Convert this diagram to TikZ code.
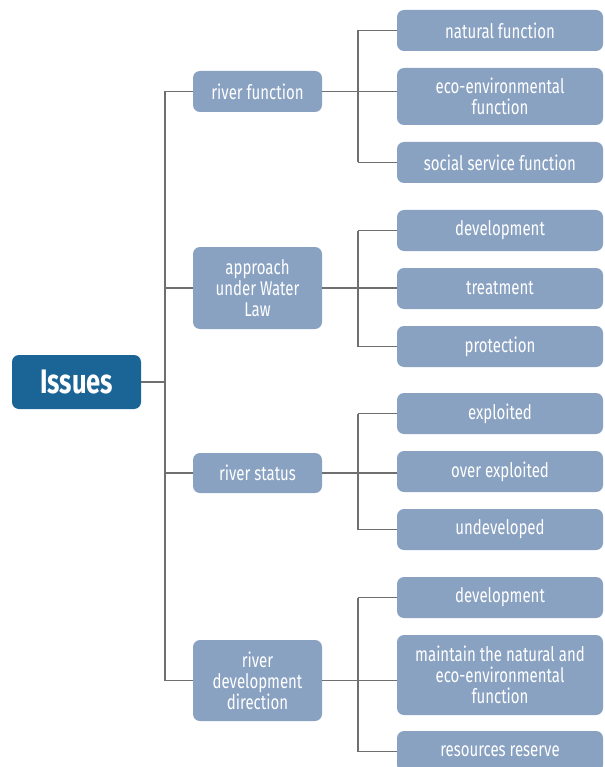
\documentclass[tikz,border=0pt]{standalone}
\usepackage{fontspec}
\setmainfont{Fira Sans}[FakeStretch=0.75]
\definecolor{rootblue}{HTML}{1B6496}
\definecolor{boxblue}{HTML}{8AA2C2}
\definecolor{linegray}{HTML}{6F6F6F}
\begin{document}
\begin{tikzpicture}[x=1pt,y=-1pt,
  rootbox/.style={fill=rootblue,rounded corners=7pt,minimum width=129pt,inner sep=0pt,text=white,font=\fontsize{34}{34}\selectfont\bfseries},
  midbox/.style={fill=boxblue,rounded corners=7pt,minimum width=129pt,inner sep=0pt,text=white,align=center,font=\fontsize{20}{21}\selectfont},
  leafbox/.style={fill=boxblue,rounded corners=7pt,minimum width=206pt,inner sep=0pt,text=white,align=center,font=\fontsize{20}{21}\selectfont},
  conn/.style={draw=linegray,line width=1.1pt}]
\useasboundingbox (0,0) rectangle (604,767);
\begin{scope}
\clip (0,0) rectangle (604,767);
% root
\node[rootbox,minimum height=54pt] (root) at (76.5,382) {Issues};
% level 2
\node[midbox,minimum height=41pt] (rf) at (257.5,91.5) {river function};
\node[midbox,minimum height=82pt] (ap) at (257.5,288) {approach\\under Water\\Law};
\node[midbox,minimum height=40pt] (rs) at (257.5,473) {river status};
\node[midbox,minimum height=81pt] (rd) at (257.5,680.5) {river\\development\\direction};
% level 3
\node[leafbox,minimum height=41pt] (a1) at (500,30.5) {natural function};
\node[leafbox,minimum height=57pt] (a2) at (500,96.5) {eco-environmental\\function};
\node[leafbox,minimum height=41pt] (a3) at (500,162.5) {social service function};
\node[leafbox,minimum height=41pt] (b1) at (500,230.5) {development};
\node[leafbox,minimum height=41pt] (b2) at (500,288.5) {treatment};
\node[leafbox,minimum height=41pt] (b3) at (500,346.5) {protection};
\node[leafbox,minimum height=41pt] (c1) at (500,413.5) {exploited};
\node[leafbox,minimum height=41pt] (c2) at (500,471.5) {over exploited};
\node[leafbox,minimum height=41pt] (c3) at (500,529.5) {undeveloped};
\node[leafbox,minimum height=41pt] (d1) at (500,597.5) {development};
\node[leafbox,minimum height=80pt] (d2) at (500,675) {maintain the natural and\\eco-environmental\\function};
\node[leafbox,minimum height=41pt] (d3) at (500,751.5) {resources reserve};
\end{scope}
% connectors root -> level 2
\coordinate (j0) at (165,382);
\draw[conn] (root.east) -- (j0);
\draw[conn] (j0 |- rf.west) -- (j0 |- rd.west);
\foreach \n in {rf,ap,rs,rd} \draw[conn] (j0 |- \n.west) -- (\n.west);
% level 2 -> level 3
\foreach \p/\t/\m/\b in {rf/a1/a2/a3, ap/b1/b2/b3, rs/c1/c2/c3, rd/d1/d2/d3}{
  \coordinate (j\p) at (358,0);
  \draw[conn] (\p.east) -- (\p.east -| \m.west);
  \draw[conn] (j\p |- \t.west) -- (j\p |- \b.west);
  \draw[conn] (j\p |- \t.west) -- (\t.west);
  \draw[conn] (j\p |- \b.west) -- (\b.west);
}
\end{tikzpicture}
\end{document}
